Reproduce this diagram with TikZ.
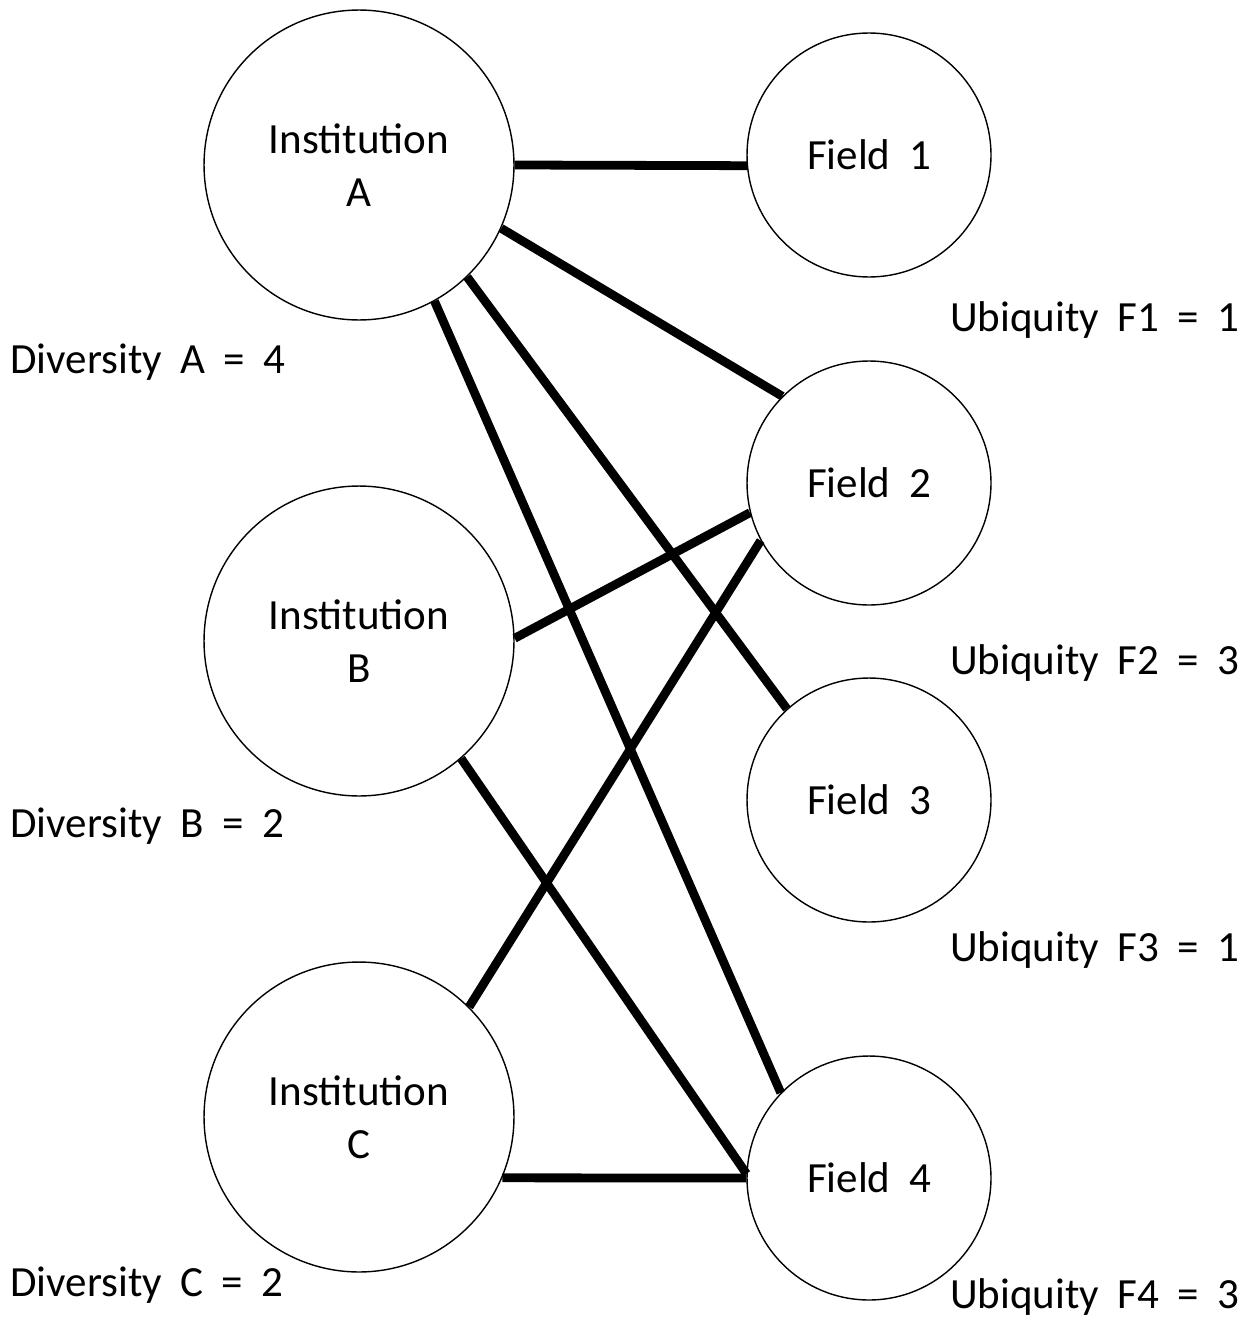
\documentclass[tikz,border=0pt]{standalone}
\usepackage{fontspec}
\setmainfont{Carlito}[WordSpace=1.9]
\usetikzlibrary{positioning}

\begin{document}
\begin{tikzpicture}[x=0.02cm, y=-0.02cm,
    inst/.style={draw, circle, thick, minimum size=6.2cm, align=center, font=\fontsize{24.5}{30}\selectfont},
    field/.style={draw, circle, thick, minimum size=4.88cm, align=center, font=\fontsize{24.5}{30}\selectfont},
    lbl/.style={font=\fontsize{24.5}{30}\selectfont, inner sep=0pt},
    link/.style={line width=5pt}]
            \useasboundingbox (0,0) rectangle (1242,1318);
            \node[inst] (instA) at (359,165) {Institution\\A};
            \node[inst] (instB) at (359,641) {Institution\\B};
            \node[inst] (instC) at (359,1117) {Institution\\C};
            \node[field] (field1) at (869,155) {Field 1};
            \node[field] (field2) at (869,483) {Field 2};
            \node[field] (field3) at (869,800) {Field 3};
            \node[field] (field4) at (869,1178) {Field 4};
            
            \node[lbl, anchor=west] (divA) at (10,362) {Diversity A = 4};
            \node[lbl, anchor=west] (divB) at (10,826) {Diversity B = 2};
            \node[lbl, anchor=west] (divC) at (10,1285) {Diversity C = 2};
            \node[lbl, anchor=east] (ubi1) at (1240,320) {Ubiquity F1 = 1};
            \node[lbl, anchor=east] (ubi2) at (1240,663) {Ubiquity F2 = 3};
            \node[lbl, anchor=east] (ubi3) at (1240,950) {Ubiquity F3 = 1};
            \node[lbl, anchor=east] (ubi4) at (1240,1297) {Ubiquity F4 = 3};
            
            \draw[link] (instA.0) -- (field1.185);
            \draw[link] (instA.-24) -- (field2.135);
            \draw[link] (instA.-46) -- (field3.132);
            \draw[link] (instA.-61) -- (field4.136);
            \draw[link] (instB.1) -- (field2.194);
            \draw[link] (instB.-49) -- (field4.178);
            \draw[link] (instC.45) -- (field2.208);
            \draw[link] (instC.-23) -- (field4.180);
        \end{tikzpicture}
\end{document}
